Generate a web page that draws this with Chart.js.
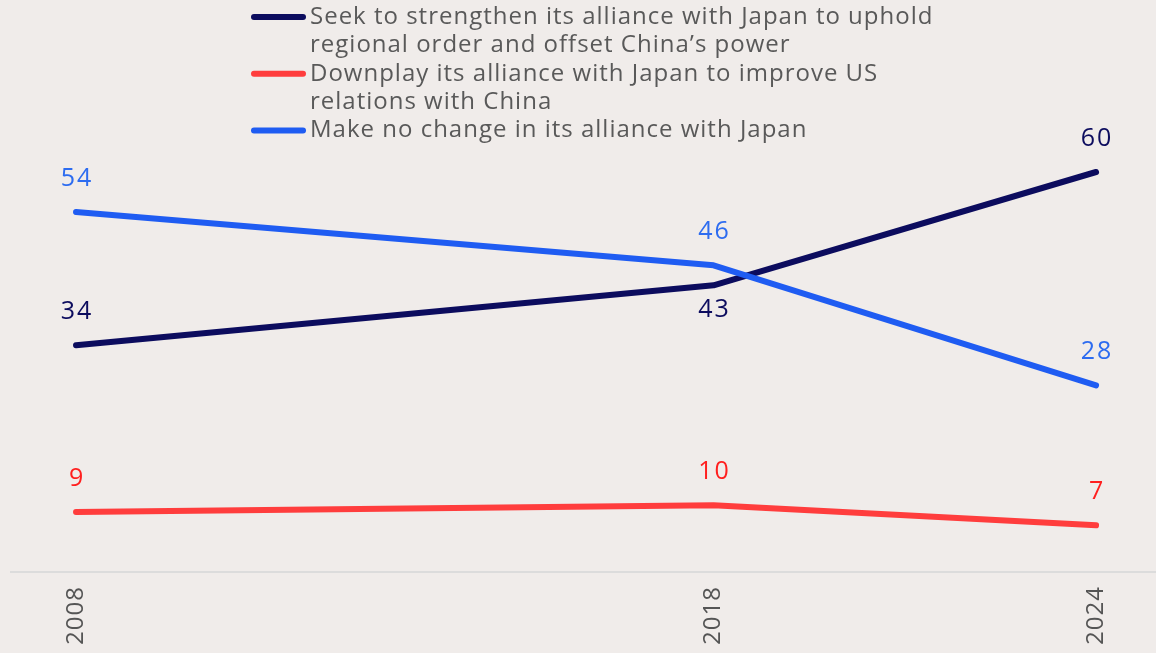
<!DOCTYPE html>
<html>
<head>
<meta charset="utf-8">
<script src="https://cdn.jsdelivr.net/npm/chart.js@4/dist/chart.umd.min.js"></script>
<style>
  html, body { margin: 0; padding: 0; background: #f0ecea; }
  #wrap { width: 1156px; height: 653px; }
</style>
</head>
<body>
<div id="wrap"><canvas id="c" width="1156" height="653"></canvas></div>
<script>
// Survey years
const years = [2008, 2018, 2024];

// Share of respondents (%) choosing each option
const strengthen = [34, 43, 60];
const downplay = [9, 10, 7];
const noChange = [54, 46, 28];

// Legend text, one array entry per line
const strengthenLabel = ['Seek to strengthen its alliance with Japan to uphold', 'regional order and offset China\u2019s power'];
const downplayLabel = ['Downplay its alliance with Japan to improve US', 'relations with China'];
const noChangeLabel = ['Make no change in its alliance with Japan'];

const FONT = '"Open Sans", sans-serif';
const BG = '#f0ecea';

const series = [
  { label: strengthenLabel, values: strengthen, line: '#0c0c5e', text: '#0c0c5e', order: 1 },
  { label: downplayLabel, values: downplay, line: '#ff3d3d', text: '#ff1f1f', order: 1 },
  { label: noChangeLabel, values: noChange, line: '#1f5cf2', text: '#2d6cf0', order: 0 }
];

// Page background, plus a slightly open letter spacing for all canvas text
const bgPlugin = {
  id: 'bg',
  beforeDraw(chart) {
    const ctx = chart.ctx;
    ctx.save();
    ctx.fillStyle = BG;
    ctx.fillRect(0, 0, chart.width, chart.height);
    ctx.restore();
    ctx.letterSpacing = '1px';
  }
};

// Legend with wrapped item text, drawn above the plot
const legendPlugin = {
  id: 'wrappedLegend',
  afterDraw(chart) {
    const ctx = chart.ctx;
    ctx.save();
    ctx.letterSpacing = '1px';
    ctx.font = '24px ' + FONT;
    ctx.textBaseline = 'middle';
    ctx.textAlign = 'left';
    let y = 17;
    const lineH = 28.4;
    series.forEach(s => {
      ctx.strokeStyle = s.line;
      ctx.lineWidth = 6;
      ctx.lineCap = 'round';
      ctx.beginPath();
      ctx.moveTo(254, y);
      ctx.lineTo(303, y);
      ctx.stroke();
      ctx.fillStyle = '#595959';
      s.label.forEach((t, i) => {
        ctx.fillText(t, 310, y + i * lineH);
      });
      y += lineH * s.label.length;
    });
    ctx.restore();
  }
};

// Value labels above each point (below when crowded by a higher series)
const valueLabels = {
  id: 'valueLabels',
  afterDatasetsDraw(chart) {
    const ctx = chart.ctx;
    ctx.save();
    ctx.letterSpacing = '2px';
    ctx.font = '25px ' + FONT;
    ctx.textAlign = 'center';
    ctx.textBaseline = 'middle';
    series.forEach((s, di) => {
      const meta = chart.getDatasetMeta(di);
      meta.data.forEach((pt, i) => {
        const v = s.values[i];
        const crowded = series.some((o, oi) => oi !== di && o.values[i] > v && o.values[i] - v < 5);
        ctx.fillStyle = s.text;
        ctx.fillText(String(v), pt.x + 1, crowded ? pt.y + 25 : pt.y - 33);
      });
    });
    ctx.restore();
  }
};

new Chart(document.getElementById('c'), {
  type: 'line',
  data: {
    datasets: series.map(s => ({
      label: s.label.join(' '),
      data: s.values.map((v, i) => ({ x: years[i], y: v })),
      borderColor: s.line,
      backgroundColor: s.line,
      borderWidth: 6,
      borderCapStyle: 'round',
      borderJoinStyle: 'round',
      pointRadius: 0,
      tension: 0,
      clip: false,
      order: s.order
    }))
  },
  options: {
    responsive: false,
    animation: false,
    layout: { padding: { top: 132, left: 11, right: 0, bottom: 0 } },
    plugins: { legend: { display: false }, tooltip: { enabled: false } },
    scales: {
      x: {
        type: 'linear',
        min: 2006.98,
        max: 2024.94,
        grid: { display: false, drawTicks: false },
        border: { display: true, color: '#dcdcdc', width: 2 },
        afterBuildTicks: s => { s.ticks = years.map(v => ({ value: v })); },
        afterFit: s => { s.height = 81; },
        ticks: {
          color: '#555555',
          font: { family: FONT, size: 24 },
          minRotation: 90,
          maxRotation: 90,
          autoSkip: false,
          padding: 14,
          callback: v => String(v)
        }
      },
      y: {
        display: false,
        min: 0,
        max: 66
      }
    }
  },
  plugins: [bgPlugin, legendPlugin, valueLabels]
});
</script>
</body>
</html>
